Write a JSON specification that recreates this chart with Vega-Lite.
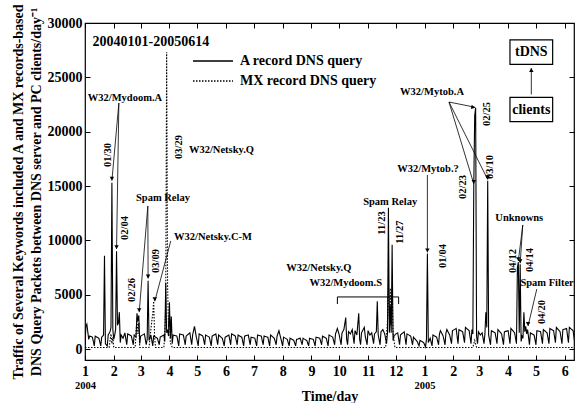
{
  "$schema": "https://vega.github.io/schema/vega-lite/v6.json",
  "width": 489,
  "height": 337,
  "autosize": {"type": "none"},
  "padding": {"left": 85, "top": 23, "right": 1, "bottom": 43},
  "background": "white",
  "config": {
    "view": {"stroke": "black", "strokeWidth": 1.2},
    "font": "Liberation Serif",
    "text": {"font": "Liberation Serif", "fontWeight": "bold", "color": "black"},
    "axis": {"labelFont": "Liberation Serif", "titleFont": "Liberation Serif", "labelFontWeight": "bold", "titleFontWeight": "bold", "labelColor": "black", "titleColor": "black", "tickColor": "black", "grid": false, "domain": false}
  },
  "datasets": {
    "series": [
      {"t":"2004-01-01","s":"A","v":400},{"t":"2004-01-02","s":"A","v":2100},{"t":"2004-01-03","s":"A","v":2300},{"t":"2004-01-04","s":"A","v":1600},{"t":"2004-01-05","s":"A","v":900},{"t":"2004-01-06","s":"A","v":1200},{"t":"2004-01-09","s":"A","v":1100},{"t":"2004-01-11","s":"A","v":300},{"t":"2004-01-12","s":"A","v":1200},{"t":"2004-01-16","s":"A","v":1000},{"t":"2004-01-18","s":"A","v":300},{"t":"2004-01-19","s":"A","v":1100},{"t":"2004-01-21","s":"A","v":1300},{"t":"2004-01-22","s":"A","v":8600},{"t":"2004-01-23","s":"A","v":500},{"t":"2004-01-25","s":"A","v":300},{"t":"2004-01-26","s":"A","v":1300},{"t":"2004-01-28","s":"A","v":1600},{"t":"2004-01-29","s":"A","v":2000},{"t":"2004-01-30","s":"A","v":15300},{"t":"2004-01-31","s":"A","v":1800},{"t":"2004-02-01","s":"A","v":900},{"t":"2004-02-02","s":"A","v":1300},{"t":"2004-02-03","s":"A","v":1800},{"t":"2004-02-04","s":"A","v":9000},{"t":"2004-02-05","s":"A","v":2200},{"t":"2004-02-06","s":"A","v":2400},{"t":"2004-02-07","s":"A","v":3400},{"t":"2004-02-08","s":"A","v":600},{"t":"2004-02-09","s":"A","v":1300},{"t":"2004-02-11","s":"A","v":1000},{"t":"2004-02-13","s":"A","v":1500},{"t":"2004-02-15","s":"A","v":400},{"t":"2004-02-16","s":"A","v":1400},{"t":"2004-02-20","s":"A","v":1200},{"t":"2004-02-22","s":"A","v":400},{"t":"2004-02-23","s":"A","v":1300},{"t":"2004-02-25","s":"A","v":1100},{"t":"2004-02-26","s":"A","v":3300},{"t":"2004-02-27","s":"A","v":2600},{"t":"2004-02-28","s":"A","v":3100},{"t":"2004-02-29","s":"A","v":500},
      {"t":"2004-03-01","s":"A","v":1200},{"t":"2004-03-05","s":"A","v":1400},{"t":"2004-03-07","s":"A","v":400},{"t":"2004-03-08","s":"A","v":900},{"t":"2004-03-09","s":"A","v":6300},{"t":"2004-03-10","s":"A","v":800},{"t":"2004-03-12","s":"A","v":1300},{"t":"2004-03-14","s":"A","v":300},{"t":"2004-03-15","s":"A","v":1200},{"t":"2004-03-19","s":"A","v":1000},{"t":"2004-03-21","s":"A","v":400},{"t":"2004-03-22","s":"A","v":1100},{"t":"2004-03-26","s":"A","v":1300},{"t":"2004-03-27","s":"A","v":700},{"t":"2004-03-28","s":"A","v":6100},{"t":"2004-03-29","s":"A","v":1500},{"t":"2004-03-30","s":"A","v":1800},{"t":"2004-03-31","s":"A","v":1200},{"t":"2004-04-01","s":"A","v":4300},{"t":"2004-04-02","s":"A","v":1000},{"t":"2004-04-03","s":"A","v":3000},{"t":"2004-04-04","s":"A","v":500},{"t":"2004-04-05","s":"A","v":1300},{"t":"2004-04-09","s":"A","v":1200},{"t":"2004-04-11","s":"A","v":300},{"t":"2004-04-12","s":"A","v":1400},{"t":"2004-04-16","s":"A","v":1300},{"t":"2004-04-18","s":"A","v":400},{"t":"2004-04-19","s":"A","v":1200},{"t":"2004-04-23","s":"A","v":1500},{"t":"2004-04-25","s":"A","v":400},{"t":"2004-04-26","s":"A","v":1300},{"t":"2004-04-28","s":"A","v":2100},{"t":"2004-04-30","s":"A","v":1100},
      {"t":"2004-05-02","s":"A","v":300},{"t":"2004-05-03","s":"A","v":1400},{"t":"2004-05-07","s":"A","v":1200},{"t":"2004-05-09","s":"A","v":400},{"t":"2004-05-10","s":"A","v":1300},{"t":"2004-05-14","s":"A","v":1100},{"t":"2004-05-16","s":"A","v":300},{"t":"2004-05-17","s":"A","v":1200},{"t":"2004-05-21","s":"A","v":1400},{"t":"2004-05-23","s":"A","v":400},{"t":"2004-05-24","s":"A","v":1300},{"t":"2004-05-28","s":"A","v":1000},{"t":"2004-05-30","s":"A","v":300},{"t":"2004-05-31","s":"A","v":1100},{"t":"2004-06-04","s":"A","v":1300},{"t":"2004-06-06","s":"A","v":400},{"t":"2004-06-07","s":"A","v":1400},{"t":"2004-06-11","s":"A","v":1200},{"t":"2004-06-13","s":"A","v":400},{"t":"2004-06-14","s":"A","v":1300},{"t":"2004-06-18","s":"A","v":1100},{"t":"2004-06-20","s":"A","v":300},{"t":"2004-06-21","s":"A","v":1200},{"t":"2004-06-25","s":"A","v":1300},{"t":"2004-06-27","s":"A","v":400},{"t":"2004-06-28","s":"A","v":1100},{"t":"2004-07-02","s":"A","v":1000},{"t":"2004-07-04","s":"A","v":300},{"t":"2004-07-05","s":"A","v":1300},{"t":"2004-07-09","s":"A","v":1200},{"t":"2004-07-11","s":"A","v":400},{"t":"2004-07-12","s":"A","v":1200},{"t":"2004-07-16","s":"A","v":1100},{"t":"2004-07-18","s":"A","v":300},{"t":"2004-07-19","s":"A","v":1300},{"t":"2004-07-23","s":"A","v":1000},{"t":"2004-07-25","s":"A","v":400},{"t":"2004-07-26","s":"A","v":1200},{"t":"2004-07-28","s":"A","v":1700},{"t":"2004-07-30","s":"A","v":1000},
      {"t":"2004-08-01","s":"A","v":300},{"t":"2004-08-02","s":"A","v":1100},{"t":"2004-08-06","s":"A","v":900},{"t":"2004-08-08","s":"A","v":300},{"t":"2004-08-09","s":"A","v":1000},{"t":"2004-08-13","s":"A","v":800},{"t":"2004-08-15","s":"A","v":300},{"t":"2004-08-16","s":"A","v":900},{"t":"2004-08-20","s":"A","v":1000},{"t":"2004-08-22","s":"A","v":400},{"t":"2004-08-23","s":"A","v":1000},{"t":"2004-08-27","s":"A","v":800},{"t":"2004-08-29","s":"A","v":300},{"t":"2004-08-30","s":"A","v":1000},{"t":"2004-09-03","s":"A","v":900},{"t":"2004-09-05","s":"A","v":300},{"t":"2004-09-06","s":"A","v":1100},{"t":"2004-09-10","s":"A","v":1000},{"t":"2004-09-12","s":"A","v":400},{"t":"2004-09-13","s":"A","v":1200},{"t":"2004-09-17","s":"A","v":1000},{"t":"2004-09-19","s":"A","v":300},{"t":"2004-09-20","s":"A","v":1300},{"t":"2004-09-24","s":"A","v":1100},{"t":"2004-09-26","s":"A","v":400},{"t":"2004-09-27","s":"A","v":1400},{"t":"2004-09-29","s":"A","v":1900},{"t":"2004-10-01","s":"A","v":1300},{"t":"2004-10-03","s":"A","v":400},{"t":"2004-10-04","s":"A","v":1500},{"t":"2004-10-06","s":"A","v":1800},{"t":"2004-10-08","s":"A","v":2900},{"t":"2004-10-09","s":"A","v":900},{"t":"2004-10-10","s":"A","v":400},{"t":"2004-10-11","s":"A","v":1600},{"t":"2004-10-13","s":"A","v":1400},{"t":"2004-10-15","s":"A","v":1800},{"t":"2004-10-17","s":"A","v":500},{"t":"2004-10-18","s":"A","v":1700},{"t":"2004-10-20","s":"A","v":1300},{"t":"2004-10-22","s":"A","v":3300},{"t":"2004-10-23","s":"A","v":900},{"t":"2004-10-24","s":"A","v":400},{"t":"2004-10-25","s":"A","v":1500},{"t":"2004-10-28","s":"A","v":2000},{"t":"2004-10-29","s":"A","v":1200},{"t":"2004-10-31","s":"A","v":400},
      {"t":"2004-11-01","s":"A","v":1700},{"t":"2004-11-03","s":"A","v":1300},{"t":"2004-11-05","s":"A","v":1500},{"t":"2004-11-07","s":"A","v":500},{"t":"2004-11-08","s":"A","v":1400},{"t":"2004-11-10","s":"A","v":1600},{"t":"2004-11-11","s":"A","v":4400},{"t":"2004-11-12","s":"A","v":1300},{"t":"2004-11-14","s":"A","v":400},{"t":"2004-11-15","s":"A","v":1600},{"t":"2004-11-17","s":"A","v":1800},{"t":"2004-11-19","s":"A","v":1400},{"t":"2004-11-21","s":"A","v":500},{"t":"2004-11-22","s":"A","v":1500},{"t":"2004-11-23","s":"A","v":13000},{"t":"2004-11-24","s":"A","v":1500},{"t":"2004-11-25","s":"A","v":4000},{"t":"2004-11-26","s":"A","v":1500},{"t":"2004-11-27","s":"A","v":9600},{"t":"2004-11-28","s":"A","v":800},{"t":"2004-11-29","s":"A","v":1200},{"t":"2004-12-01","s":"A","v":1400},{"t":"2004-12-03","s":"A","v":1500},{"t":"2004-12-05","s":"A","v":400},{"t":"2004-12-06","s":"A","v":1300},{"t":"2004-12-10","s":"A","v":1600},{"t":"2004-12-12","s":"A","v":400},{"t":"2004-12-13","s":"A","v":1400},{"t":"2004-12-17","s":"A","v":1200},{"t":"2004-12-19","s":"A","v":400},{"t":"2004-12-20","s":"A","v":1100},{"t":"2004-12-24","s":"A","v":700},{"t":"2004-12-26","s":"A","v":300},{"t":"2004-12-27","s":"A","v":800},{"t":"2004-12-31","s":"A","v":600},
      {"t":"2005-01-02","s":"A","v":200},{"t":"2005-01-03","s":"A","v":900},{"t":"2005-01-04","s":"A","v":8800},{"t":"2005-01-05","s":"A","v":600},{"t":"2005-01-07","s":"A","v":1000},{"t":"2005-01-09","s":"A","v":300},{"t":"2005-01-10","s":"A","v":1300},{"t":"2005-01-14","s":"A","v":1100},{"t":"2005-01-16","s":"A","v":400},{"t":"2005-01-17","s":"A","v":1400},{"t":"2005-01-18","s":"A","v":1700},{"t":"2005-01-21","s":"A","v":1200},{"t":"2005-01-23","s":"A","v":400},{"t":"2005-01-24","s":"A","v":1500},{"t":"2005-01-25","s":"A","v":1800},{"t":"2005-01-28","s":"A","v":1300},{"t":"2005-01-30","s":"A","v":500},{"t":"2005-01-31","s":"A","v":1700},{"t":"2005-02-04","s":"A","v":1900},{"t":"2005-02-06","s":"A","v":500},{"t":"2005-02-07","s":"A","v":1800},{"t":"2005-02-11","s":"A","v":1600},{"t":"2005-02-13","s":"A","v":600},{"t":"2005-02-14","s":"A","v":2000},{"t":"2005-02-18","s":"A","v":1700},{"t":"2005-02-20","s":"A","v":500},{"t":"2005-02-21","s":"A","v":1800},{"t":"2005-02-22","s":"A","v":1400},{"t":"2005-02-23","s":"A","v":15100},{"t":"2005-02-24","s":"A","v":21500},{"t":"2005-02-25","s":"A","v":22200},{"t":"2005-02-26","s":"A","v":1200},{"t":"2005-02-27","s":"A","v":500},{"t":"2005-02-28","s":"A","v":1600},
      {"t":"2005-03-02","s":"A","v":1300},{"t":"2005-03-04","s":"A","v":1500},{"t":"2005-03-06","s":"A","v":500},{"t":"2005-03-07","s":"A","v":1400},{"t":"2005-03-08","s":"A","v":3400},{"t":"2005-03-09","s":"A","v":2000},{"t":"2005-03-10","s":"A","v":15500},{"t":"2005-03-11","s":"A","v":1300},{"t":"2005-03-13","s":"A","v":400},{"t":"2005-03-14","s":"A","v":1700},{"t":"2005-03-18","s":"A","v":1500},{"t":"2005-03-20","s":"A","v":500},{"t":"2005-03-21","s":"A","v":1800},{"t":"2005-03-25","s":"A","v":1400},{"t":"2005-03-27","s":"A","v":400},{"t":"2005-03-28","s":"A","v":1600},{"t":"2005-04-01","s":"A","v":1700},{"t":"2005-04-03","s":"A","v":500},{"t":"2005-04-04","s":"A","v":1900},{"t":"2005-04-08","s":"A","v":1500},{"t":"2005-04-10","s":"A","v":500},{"t":"2005-04-11","s":"A","v":7500},{"t":"2005-04-12","s":"A","v":8000},{"t":"2005-04-13","s":"A","v":1500},{"t":"2005-04-14","s":"A","v":7800},{"t":"2005-04-15","s":"A","v":700},{"t":"2005-04-16","s":"A","v":1200},{"t":"2005-04-17","s":"A","v":1000},{"t":"2005-04-18","s":"A","v":3400},{"t":"2005-04-19","s":"A","v":1600},{"t":"2005-04-20","s":"A","v":2100},{"t":"2005-04-21","s":"A","v":1400},{"t":"2005-04-22","s":"A","v":1800},{"t":"2005-04-24","s":"A","v":400},{"t":"2005-04-25","s":"A","v":1500},{"t":"2005-04-29","s":"A","v":1300},
      {"t":"2005-05-01","s":"A","v":400},{"t":"2005-05-02","s":"A","v":1700},{"t":"2005-05-06","s":"A","v":1600},{"t":"2005-05-08","s":"A","v":500},{"t":"2005-05-09","s":"A","v":1800},{"t":"2005-05-13","s":"A","v":1500},{"t":"2005-05-15","s":"A","v":500},{"t":"2005-05-16","s":"A","v":1900},{"t":"2005-05-20","s":"A","v":1700},{"t":"2005-05-22","s":"A","v":600},{"t":"2005-05-23","s":"A","v":2000},{"t":"2005-05-27","s":"A","v":1600},{"t":"2005-05-29","s":"A","v":500},{"t":"2005-05-30","s":"A","v":1800},{"t":"2005-06-03","s":"A","v":1900},{"t":"2005-06-05","s":"A","v":600},{"t":"2005-06-06","s":"A","v":2000},{"t":"2005-06-10","s":"A","v":1700},{"t":"2005-06-12","s":"A","v":500},{"t":"2005-06-13","s":"A","v":1800},{"t":"2005-06-14","s":"A","v":1700},
      {"t":"2004-01-01","s":"MX","v":150},{"t":"2004-01-27","s":"MX","v":150},{"t":"2004-01-29","s":"MX","v":1400},{"t":"2004-01-30","s":"MX","v":500},{"t":"2004-01-31","s":"MX","v":1100},{"t":"2004-02-01","s":"MX","v":150},{"t":"2004-02-24","s":"MX","v":150},{"t":"2004-02-26","s":"MX","v":2800},{"t":"2004-02-27","s":"MX","v":1400},{"t":"2004-02-28","s":"MX","v":2400},{"t":"2004-02-29","s":"MX","v":150},{"t":"2004-03-10","s":"MX","v":150},{"t":"2004-03-12","s":"MX","v":1800},{"t":"2004-03-13","s":"MX","v":2600},{"t":"2004-03-14","s":"MX","v":3200},{"t":"2004-03-15","s":"MX","v":4400},{"t":"2004-03-16","s":"MX","v":1200},{"t":"2004-03-17","s":"MX","v":150},{"t":"2004-03-26","s":"MX","v":150},{"t":"2004-03-27","s":"MX","v":1500},{"t":"2004-03-28","s":"MX","v":4200},{"t":"2004-03-29","s":"MX","v":27300},{"t":"2004-03-30","s":"MX","v":5800},{"t":"2004-03-31","s":"MX","v":2000},{"t":"2004-04-01","s":"MX","v":3200},{"t":"2004-04-02","s":"MX","v":600},{"t":"2004-04-04","s":"MX","v":150},{"t":"2004-07-01","s":"MX","v":150},{"t":"2004-11-20","s":"MX","v":150},{"t":"2004-11-22","s":"MX","v":2500},{"t":"2004-11-23","s":"MX","v":6000},{"t":"2004-11-24","s":"MX","v":2800},{"t":"2004-11-25","s":"MX","v":5600},{"t":"2004-11-26","s":"MX","v":2200},{"t":"2004-11-27","s":"MX","v":5400},{"t":"2004-11-28","s":"MX","v":1500},{"t":"2004-11-30","s":"MX","v":150},{"t":"2005-02-22","s":"MX","v":150},{"t":"2005-02-24","s":"MX","v":800},{"t":"2005-02-26","s":"MX","v":150},{"t":"2005-06-14","s":"MX","v":150}
    ],
    "labels": [
      {"t":"2004-02-13","v":23100,"label":"W32/Mydoom.A"},
      {"t":"2004-03-25","v":13900,"label":"Spam Relay"},
      {"t":"2004-05-18","v":10310,"label":"W32/Netsky.C-M"},
      {"t":"2004-05-27","v":18320,"label":"W32/Netsky.Q"},
      {"t":"2004-09-09","v":7460,"label":"W32/Netsky.Q"},
      {"t":"2004-10-08","v":6080,"label":"W32/Mydoom.S"},
      {"t":"2004-11-24T21:00","v":13530,"label":"Spam Relay"},
      {"t":"2005-01-04T16:00","v":16570,"label":"W32/Mytob.?"},
      {"t":"2005-01-09","v":23650,"label":"W32/Mytob.A"},
      {"t":"2005-04-13","v":12060,"label":"Unknowns"},
      {"t":"2005-05-13","v":6080,"label":"Spam Filter"}
    ],
    "big": [
      {"t":"2004-03-11T22:00","v":28250,"label":"20040101-20050614"},
      {"t":"2005-04-26","v":27330,"label":"tDNS"},
      {"t":"2005-04-26","v":22000,"label":"clients"}
    ],
    "dates": [
      {"t":"2004-01-25T17:00","v":17860,"label":"01/30"},
      {"t":"2004-02-13","v":11140,"label":"02/04"},
      {"t":"2004-02-21","v":5440,"label":"02/26"},
      {"t":"2004-03-17","v":8110,"label":"03/09"},
      {"t":"2004-04-11","v":18590,"label":"03/29"},
      {"t":"2004-11-15T18:00","v":11600,"label":"11/23"},
      {"t":"2004-12-05T14:00","v":10770,"label":"11/27"},
      {"t":"2005-01-20T22:00","v":8570,"label":"01/04"},
      {"t":"2005-03-09T02:00","v":21630,"label":"02/25"},
      {"t":"2005-02-11T10:00","v":14910,"label":"02/23"},
      {"t":"2005-03-12T10:00","v":16750,"label":"03/10"},
      {"t":"2005-04-06T02:00","v":8110,"label":"04/12"},
      {"t":"2005-04-24T10:00","v":8200,"label":"04/14"},
      {"t":"2005-05-07T07:00","v":3420,"label":"04/20"}
    ],
    "arrows": [
      {"t":"2004-02-06T12:00","v":22640,"t2":"2004-01-30","v2":15500},
      {"t":"2004-02-06T12:00","v":22640,"t2":"2004-02-04","v2":9200},
      {"t":"2004-03-08T17:00","v":13170,"t2":"2004-02-28T10:00","v2":3400},
      {"t":"2004-03-08T17:00","v":13170,"t2":"2004-03-09","v2":6500},
      {"t":"2004-04-02T10:00","v":9950,"t2":"2004-03-16T05:00","v2":4400},
      {"t":"2005-01-04","v":16020,"t2":"2005-01-04","v2":8900},
      {"t":"2005-01-27T07:00","v":22730,"t2":"2005-02-24T12:00","v2":22250},
      {"t":"2005-01-27T07:00","v":22730,"t2":"2005-02-23","v2":15200},
      {"t":"2005-01-27T07:00","v":22730,"t2":"2005-03-10","v2":15600},
      {"t":"2005-04-16T19:00","v":11420,"t2":"2005-04-12","v2":8100},
      {"t":"2005-04-16T19:00","v":11420,"t2":"2005-04-14","v2":7900},
      {"t":"2005-05-01T22:00","v":5530,"t2":"2005-04-22T12:00","v2":2130},
      {"t":"2005-04-26","v":23420,"t2":"2005-04-26","v2":25860}
    ],
    "bracket": [
      {"t":"2004-09-29","v":4800,"t2":"2004-12-04","v2":4800},
      {"t":"2004-09-29","v":4800,"t2":"2004-09-29","v2":4150},
      {"t":"2004-12-04","v":4800,"t2":"2004-12-04","v2":4150}
    ],
    "boxes": [
      {"t":"2005-04-03","t2":"2005-05-19","v":28440,"v2":26200},
      {"t":"2005-04-03","t2":"2005-05-19","v":23165,"v2":20920}
    ]
  },
  "resolve": {"axis": {"x": "independent", "y": "independent"}},
  "layer": [
    {
      "data": {"name": "series"},
      "mark": {"type": "line", "color": "black", "strokeWidth": 1.1, "clip": true},
      "encoding": {
        "x": {"field": "t", "type": "temporal",
          "scale": {"domain": [{"year": 2004, "month": 1, "date": 1}, {"year": 2005, "month": 6, "date": 11}], "nice": false},
          "axis": {"orient": "bottom", "tickCount": {"interval": "month", "step": 1}, "labelExpr": "timeFormat(datum.value, '%-m')", "labelFontSize": 14, "tickSize": -5, "labelPadding": 9, "labelFlush": false, "labelOverlap": false, "title": null}},
        "y": {"field": "v", "type": "quantitative",
          "scale": {"domain": [-1000, 30000], "nice": false, "zero": false},
          "axis": {"orient": "left", "values": [0, 5000, 10000, 15000, 20000, 25000, 30000], "format": "d", "labelFontSize": 14, "tickSize": -5, "labelPadding": 8,
            "title": ["Traffic of Several Keywords included A and MX records-based", "DNS Query Packets between DNS server and PC clients/day⁻¹"],
            "titleFontSize": 14, "titleLineHeight": 18, "titlePadding": 4}},
        "strokeDash": {"field": "s", "type": "nominal",
          "scale": {"domain": ["A", "MX"], "range": [[1, 0], [1.5, 1.5]]},
          "legend": {"orient": "none", "legendX": 117, "legendY": 27, "title": null, "symbolType": "M-2,0H2", "symbolSize": 400, "symbolStrokeWidth": 1.3, "symbolStrokeColor": "black", "labelFont": "Liberation Serif", "labelFontWeight": "bold", "labelFontSize": 14, "labelColor": "black", "labelOffset": 16, "rowPadding": 2, "padding": 0,
            "labelExpr": "datum.label == 'A' ? 'A record DNS query' : 'MX record DNS query'"}}
      }
    },
    {
      "data": {"name": "arrows"},
      "mark": {"type": "rule", "color": "black", "strokeWidth": 0.8},
      "encoding": {
        "x": {"field": "t", "type": "temporal", "axis": {"orient": "top", "tickCount": {"interval": "month", "step": 1}, "labels": false, "tickSize": -5, "title": null}},
        "x2": {"field": "t2"},
        "y": {"field": "v", "type": "quantitative", "axis": {"orient": "right", "values": [0, 5000, 10000, 15000, 20000, 25000, 30000], "labels": false, "tickSize": -5, "title": null}},
        "y2": {"field": "v2"}
      }
    },
    {
      "data": {"name": "bracket"},
      "mark": {"type": "rule", "color": "black", "strokeWidth": 1},
      "encoding": {
        "x": {"field": "t", "type": "temporal", "axis": null},
        "x2": {"field": "t2"},
        "y": {"field": "v", "type": "quantitative", "axis": null},
        "y2": {"field": "v2"}
      }
    },
    {
      "data": {"name": "arrows"},
      "transform": [{"filter": "datum.v2 < datum.v - 1000"}],
      "mark": {"type": "point", "shape": "triangle-down", "filled": true, "color": "black", "size": 20, "opacity": 1, "yOffset": -2},
      "encoding": {
        "x": {"field": "t2", "type": "temporal", "axis": null},
        "y": {"field": "v2", "type": "quantitative", "axis": null}
      }
    },
    {
      "data": {"name": "arrows"},
      "transform": [{"filter": "datum.v2 > datum.v"}],
      "mark": {"type": "point", "shape": "triangle-up", "filled": true, "color": "black", "size": 20, "opacity": 1, "yOffset": 2},
      "encoding": {
        "x": {"field": "t2", "type": "temporal", "axis": null},
        "y": {"field": "v2", "type": "quantitative", "axis": null}
      }
    },
    {
      "data": {"name": "arrows"},
      "transform": [{"filter": "abs(datum.v - datum.v2) <= 1000"}],
      "mark": {"type": "point", "shape": "triangle-right", "filled": true, "color": "black", "size": 20, "opacity": 1, "angle": 12, "xOffset": -2},
      "encoding": {
        "x": {"field": "t2", "type": "temporal", "axis": null},
        "y": {"field": "v2", "type": "quantitative", "axis": null}
      }
    },
    {
      "data": {"name": "boxes"},
      "mark": {"type": "rect", "fill": "white", "stroke": "black", "strokeWidth": 1.2},
      "encoding": {
        "x": {"field": "t", "type": "temporal", "axis": null},
        "x2": {"field": "t2"},
        "y": {"field": "v", "type": "quantitative", "axis": null},
        "y2": {"field": "v2"}
      }
    },
    {
      "data": {"name": "labels"},
      "mark": {"type": "text", "fontSize": 10.5, "align": "center", "baseline": "middle"},
      "encoding": {
        "x": {"field": "t", "type": "temporal",
          "axis": {"orient": "bottom", "offset": 15, "values": [{"year": 2004, "month": 1, "date": 1}, {"year": 2005, "month": 1, "date": 1}], "labelExpr": "timeFormat(datum.value, '%Y')", "labelFontSize": 10.5, "ticks": false, "tickSize": 0, "labelPadding": 5, "labelFlush": false, "labelOverlap": false, "title": "Time/day", "titleFontSize": 14, "titlePadding": -1}},
        "y": {"field": "v", "type": "quantitative", "axis": null},
        "text": {"field": "label"}
      }
    },
    {
      "data": {"name": "dates"},
      "mark": {"type": "text", "fontSize": 10.5, "align": "center", "baseline": "middle", "angle": 270},
      "encoding": {
        "x": {"field": "t", "type": "temporal", "axis": null},
        "y": {"field": "v", "type": "quantitative", "axis": null},
        "text": {"field": "label"}
      }
    },
    {
      "data": {"name": "big"},
      "mark": {"type": "text", "fontSize": 14, "align": "center", "baseline": "middle"},
      "encoding": {
        "x": {"field": "t", "type": "temporal", "axis": null},
        "y": {"field": "v", "type": "quantitative", "axis": null},
        "text": {"field": "label"}
      }
    }
  ]
}
